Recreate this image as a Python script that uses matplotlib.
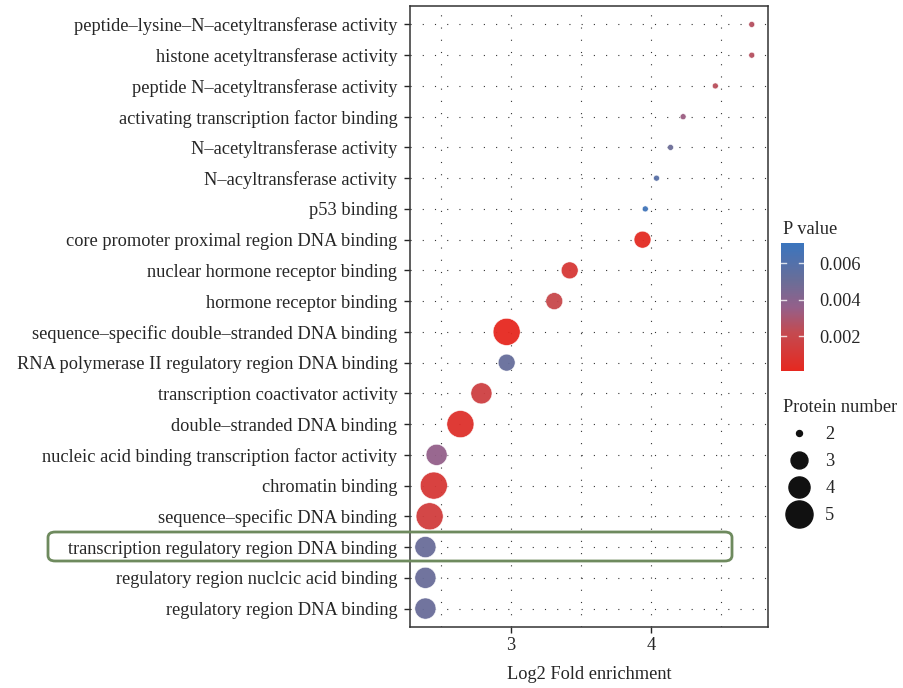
import numpy as np
import matplotlib
matplotlib.use("Agg")
import matplotlib.pyplot as plt
from matplotlib.colors import LinearSegmentedColormap, Normalize
from matplotlib.lines import Line2D
from matplotlib.patches import FancyBboxPatch

# GO terms (top -> bottom)
terms = [
    "peptide\u2013lysine\u2013N\u2013acetyltransferase activity",
    "histone acetyltransferase activity",
    "peptide N\u2013acetyltransferase activity",
    "activating transcription factor binding",
    "N\u2013acetyltransferase activity",
    "N\u2013acyltransferase activity",
    "p53 binding",
    "core promoter proximal region DNA binding",
    "nuclear hormone receptor binding",
    "hormone receptor binding",
    "sequence\u2013specific double\u2013stranded DNA binding",
    "RNA polymerase II regulatory region DNA binding",
    "transcription coactivator activity",
    "double\u2013stranded DNA binding",
    "nucleic acid binding transcription factor activity",
    "chromatin binding",
    "sequence\u2013specific DNA binding",
    "transcription regulatory region DNA binding",
    "regulatory region nuclcic acid binding",
    "regulatory region DNA binding",
]
fold = [4.72, 4.72, 4.46, 4.23, 4.14, 4.04, 3.96, 3.94, 3.42, 3.31,
        2.97, 2.97, 2.79, 2.64, 2.47, 2.45, 2.42, 2.39, 2.39, 2.39]
pval = [0.0026, 0.0026, 0.0025, 0.0034, 0.0050, 0.0058, 0.0068, 0.0003, 0.0011, 0.0020,
        0.0001, 0.0052, 0.0016, 0.0006, 0.0036, 0.0011, 0.0014, 0.0051, 0.0051, 0.0051]
count = [2, 2, 2, 2, 2, 2, 2, 3, 3, 3,
         5, 3, 4, 5, 4, 5, 5, 4, 4, 4]

legend_counts = [2, 3, 4, 5]
cbar_ticks = [0.002, 0.004, 0.006]

# marker diameter (pt) per protein number
diam = {2: 4.3, 3: 12.2, 4: 15.2, 5: 19.5}

plt.rcParams["font.family"] = ["Liberation Serif", "DejaVu Serif"]
FS = 13.2
TXT = "#262626"

cmap = LinearSegmentedColormap.from_list(
    "pv", [(0.0, "#E6281F"), (0.3, "#C44A50"), (0.5, "#94608A"),
           (0.7, "#6B6D97"), (1.0, "#3A75BE")])
norm = Normalize(vmin=0.0001, vmax=0.0071)

W, H = 904, 688
fig = plt.figure(figsize=(W / 100, H / 100), dpi=100)
ax = fig.add_axes([410 / W, 1 - 627 / H, 358 / W, 621 / H])

n = len(terms)
y = np.arange(n)[::-1]
sizes = [diam[c] ** 2 for c in count]
ax.scatter(fold, y, s=sizes, c=pval, cmap=cmap, norm=norm, alpha=0.95,
           edgecolors="white", linewidths=0.4, zorder=3)

ax.set_xlim(2.28, 4.836)
ax.set_ylim(-0.6, n - 0.4)
ax.set_xticks([3, 4])
ax.set_xticks([2.5, 3.5, 4.5], minor=True)
ax.set_yticks(y)
ax.set_yticklabels(terms, fontsize=FS, color=TXT)
ax.tick_params(axis="x", labelsize=FS, colors=TXT, length=4, width=1)
ax.tick_params(axis="x", which="minor", length=0)
ax.tick_params(axis="y", length=4, width=1, colors=TXT, pad=5)
ax.set_xlabel("Log2 Fold enrichment", fontsize=FS, color=TXT, labelpad=8)

ax.grid(True, which="both", axis="x", color="#333333", lw=0.8, linestyle=(0, (1, 10)))
ax.grid(True, which="major", axis="y", color="#333333", lw=0.8, linestyle=(0, (1, 10)))
ax.set_axisbelow(True)
for sp in ax.spines.values():
    sp.set_color("#333333")
    sp.set_linewidth(1.1)

# colour bar
cax = fig.add_axes([781 / W, 1 - 371 / H, 23 / W, 128 / H])
cb = fig.colorbar(plt.cm.ScalarMappable(norm=norm, cmap=cmap), cax=cax, ticks=cbar_ticks)
cb.outline.set_visible(False)
cb.ax.tick_params(length=0, labelsize=FS, colors=TXT, pad=11)
for t in cbar_ticks:
    cax.axhline(t, xmin=0, xmax=0.2, color="white", lw=1, alpha=0.8)
    cax.axhline(t, xmin=0.8, xmax=1, color="white", lw=1, alpha=0.8)
fig.text(783 / W, 1 - 229 / H, "P value", fontsize=FS, va="center", color=TXT)

# size legend
handles = [Line2D([], [], linestyle="none", marker="o", color="#111111",
                  markersize=diam[c]) for c in legend_counts]
leg = fig.legend(handles, [str(c) for c in legend_counts], title="Protein number",
                 loc="upper left", bbox_to_anchor=(783 / W, 1 - 399 / H),
                 frameon=False, fontsize=FS, title_fontsize=FS,
                 handlelength=1.8, handletextpad=0.5, labelspacing=0.55,
                 borderaxespad=0, borderpad=0)
leg._legend_box.align = "left"
for t in leg.get_texts():
    t.set_color(TXT)
leg.get_title().set_color(TXT)

# highlight box
box = FancyBboxPatch((48 / W, 1 - 561 / H), 684 / W, 29 / H,
                     boxstyle="round,pad=0,rounding_size=0.008",
                     transform=fig.transFigure, fill=False,
                     edgecolor="#6E8A5E", lw=2, zorder=10)
fig.patches.append(box)

fig.savefig("out.png", dpi=100)
